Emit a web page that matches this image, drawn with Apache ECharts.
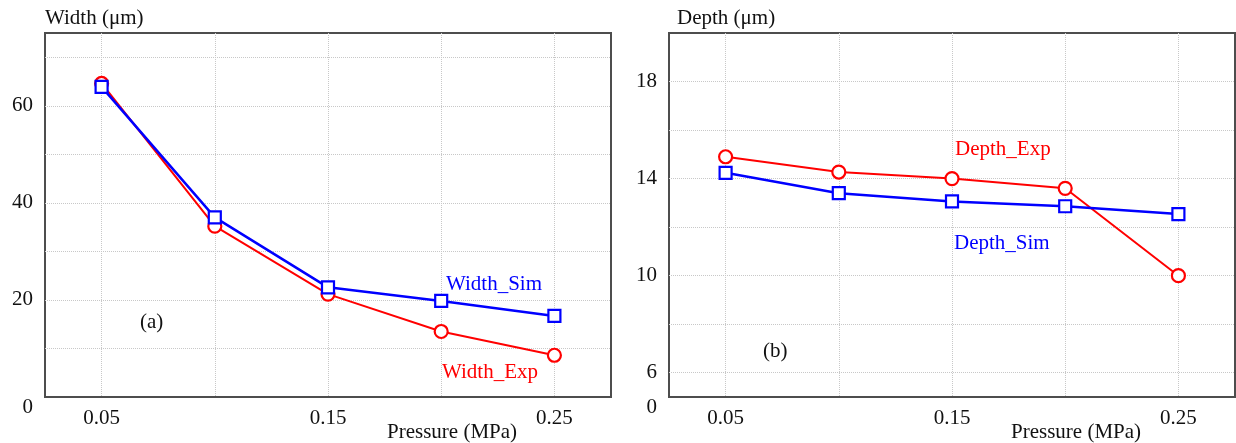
<!DOCTYPE html>
<html>
<head>
<meta charset="utf-8">
<title>Width / Depth vs Pressure</title>
<script src="https://cdn.jsdelivr.net/npm/echarts@6/dist/echarts.min.js"></script>
<style>
  html, body { margin: 0; padding: 0; background: #fff; }
  #chart { width: 1236px; height: 443px; }
</style>
</head>
<body>
<div id="chart"></div>
<script>
// 压力 (MPa)
const pressure = [0.05, 0.1, 0.15, 0.2, 0.25]
const pressureLabels = [0.05, 0.15, 0.25]

// (a) 宽度
const widthExp = [64.6, 35.2, 21.2, 13.5, 8.6]
const widthSim = [63.9, 37.0, 22.6, 19.8, 16.7]
const widthLabels = [0, 20, 40, 60]
const widthGrid = [10, 20, 30, 40, 50, 60, 70]

// (b) 深度
const depthExp = [14.9, 14.27, 14.0, 13.6, 10.0]
const depthSim = [14.24, 13.4, 13.06, 12.86, 12.54]
const depthLabels = [5, 6, 10, 14, 18] // 5 在图上写作 "0"
const depthGrid = [6, 8, 10, 12, 14, 16, 18]

const font = '"Liberation Serif", "Times New Roman", serif'
const red = '#ff0000'
const blue = '#0000ff'

const chart = echarts.init(document.getElementById('chart'))

const pairs = (xs, ys) => xs.map((x, i) => [x, ys[i]])

function xAxisOf(gridIndex) {
  return {
    type: 'value',
    gridIndex: gridIndex,
    min: 0.025,
    max: 0.275,
    axisLine: { show: false },
    axisTick: { show: false, customValues: pressure },
    axisLabel: {
      customValues: pressureLabels,
      margin: 11,
      color: '#111',
      fontFamily: font,
      fontSize: 21,
      formatter: (v) => v.toFixed(2)
    },
    splitLine: { show: true, lineStyle: { color: '#c8c8c8', type: 'dotted', width: 1 } }
  }
}

function yAxisOf(gridIndex, min, max, name, labels, gridVals, namePad) {
  return {
    type: 'value',
    gridIndex: gridIndex,
    min: min,
    max: max,
    name: name,
    nameLocation: 'end',
    nameGap: 4,
    nameTextStyle: { color: '#111', fontFamily: font, fontSize: 21, align: 'left', padding: [0, 0, 0, namePad] },
    axisLine: { show: false },
    axisTick: { show: false, customValues: gridVals },
    axisLabel: {
      customValues: labels,
      margin: 12,
      color: '#111',
      fontFamily: font,
      fontSize: 21,
      formatter: (v) => (v === min ? '{z|0}' : String(v)),
      rich: { z: { fontFamily: font, fontSize: 21, color: '#111', padding: [20, 0, 0, 0] } }
    },
    splitLine: { show: true, lineStyle: { color: '#c8c8c8', type: 'dotted', width: 1 } }
  }
}

function lineOf(name, xi, data, color, symbol, size, width) {
  return {
    name: name,
    type: 'line',
    xAxisIndex: xi,
    yAxisIndex: xi,
    data: data,
    symbol: symbol,
    symbolSize: size,
    showAllSymbol: true,
    lineStyle: { color: color, width: width },
    itemStyle: { color: '#fff', borderColor: color, borderWidth: 2.2 },
    emphasis: { disabled: true },
    animation: false
  }
}

function text(left, cy, str, color) {
  return {
    type: 'text',
    left: left,
    top: cy - 11,
    style: { text: str, fill: color || '#111', font: '21px ' + font }
  }
}

const option = {
  grid: [
    { left: 45, top: 33, width: 566, height: 364, show: true, borderColor: '#4d4d4d', borderWidth: 2, backgroundColor: '#fff' },
    { left: 669, top: 33, width: 566, height: 364, show: true, borderColor: '#4d4d4d', borderWidth: 2, backgroundColor: '#fff' }
  ],
  xAxis: [xAxisOf(0), xAxisOf(1)],
  yAxis: [
    yAxisOf(0, 0, 75, 'Width (μm)', widthLabels, widthGrid, 0),
    yAxisOf(1, 5, 20, 'Depth (μm)', depthLabels, depthGrid, 8)
  ],
  series: [
    lineOf('Width_Exp', 0, pairs(pressure, widthExp), red, 'circle', 13, 2),
    lineOf('Width_Sim', 0, pairs(pressure, widthSim), blue, 'rect', 12, 2.5),
    lineOf('Depth_Exp', 1, pairs(pressure, depthExp), red, 'circle', 13, 2),
    lineOf('Depth_Sim', 1, pairs(pressure, depthSim), blue, 'rect', 12, 2.5)
  ],
  graphic: [
    text(446, 285, 'Width_Sim', blue),
    text(442, 373, 'Width_Exp', red),
    text(140, 323, '(a)'),
    text(387, 433, 'Pressure (MPa)'),
    text(955, 150, 'Depth_Exp', red),
    text(954, 244, 'Depth_Sim', blue),
    text(763, 352, '(b)'),
    text(1011, 433, 'Pressure (MPa)')
  ]
}
chart.setOption(option)
</script>
</body>
</html>
